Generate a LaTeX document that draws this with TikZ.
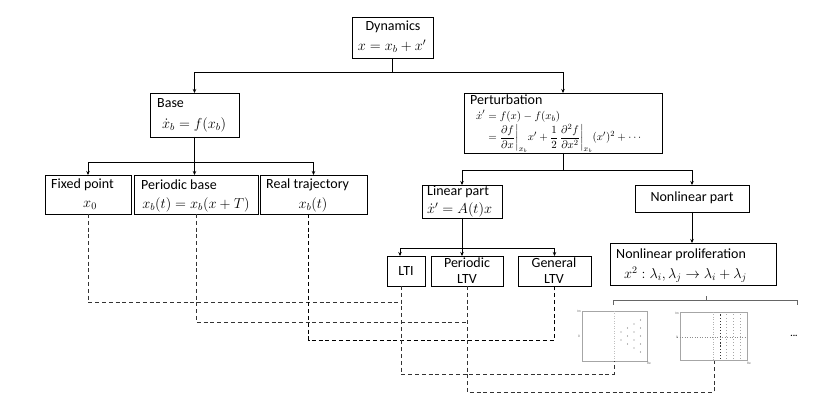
\documentclass[tikz,border=0pt]{standalone}
\usepackage{amsmath}
\usepackage{fontspec}
\setmainfont{Carlito}
\usetikzlibrary{arrows.meta,calc}
\begin{document}
\begin{tikzpicture}[x=1pt,y=-1pt,
  box/.style={draw, line width=0.9pt, rectangle, inner sep=0pt, outer sep=0pt, anchor=north west},
  lbl/.style={inner sep=0pt, font=\fontsize{14}{16}\selectfont},
  mth/.style={inner sep=0pt, font=\fontsize{14.5}{17}\selectfont},
  conn/.style={line width=0.8pt, -{Stealth[length=4pt,width=3.5pt]}},
  plain/.style={line width=0.8pt},
  dsh/.style={line width=0.9pt, dash pattern=on 4pt off 2.8pt, black!80},
  frm/.style={line width=0.5pt, black!35},
  tinyl/.style={inner sep=0pt, font=\fontsize{3.5}{4}\selectfont, text=black!60},
]
\useasboundingbox (0,0) rectangle (830,419);

% boxes
\node[box, minimum width=81pt,  minimum height=41pt] (dyn)  at (352,17)  {};
\node[box, minimum width=89pt,  minimum height=44pt] (base) at (150,93)  {};
\node[box, minimum width=198pt, minimum height=60pt] (pert) at (464,93)  {};
\node[box, minimum width=86pt,  minimum height=39pt] (fp)   at (45,175)  {};
\node[box, minimum width=124pt, minimum height=39pt] (pb)   at (134,175) {};
\node[box, minimum width=107pt, minimum height=39pt] (rt)   at (260,175) {};
\node[box, minimum width=80pt,  minimum height=33pt] (lin)  at (422,185) {};
\node[box, minimum width=114pt, minimum height=27pt] (nlp)  at (635,185) {};
\node[box, minimum width=38pt,  minimum height=30pt] (lti)  at (387,256) {};
\node[box, minimum width=72pt,  minimum height=30pt] (pltv) at (431,256) {};
\node[box, minimum width=73pt,  minimum height=30pt] (gltv) at (518,256) {};
\node[box, minimum width=166pt, minimum height=42pt] (npr)  at (610,243) {};

% texts
\node[lbl] (dynT) at (393,27) {Dynamics};
\node[mth] (dynM) at (392,46) {$x = x_b + x'$};
\node[lbl, anchor=west] (baseT) at (157,103) {Base};
\node[mth, anchor=west] (baseM) at (162,125) {$\dot{x}_b = f(x_b)$};
\node[lbl, anchor=west] (fpT) at (51,185) {Fixed point};
\node[mth] (fpM) at (90,205) {$x_0$};
\node[lbl, anchor=west] (pbT) at (141,185) {Periodic base};
\node[mth] (pbM) at (196,205) {$x_b(t) = x_b(x+T)$};
\node[lbl, anchor=west] (rtT) at (266,185) {Real trajectory};
\node[mth] (rtM) at (313,205) {$x_b(t)$};
\node[lbl, anchor=west] (pertT) at (470,100) {Perturbation};
\node[mth, anchor=north west, font=\fontsize{11}{13}\selectfont] (pertM) at (476,110)
  {$\begin{aligned}\dot{x}' &= f(x) - f(x_b)\\[-3pt]
   &= \frac{\partial f}{\partial x}\bigg|_{x_b} x' + \frac{1}{2}\,\frac{\partial^2 f}{\partial x^2}\bigg|_{x_b} (x')^2 + \cdots\end{aligned}$};
\node[lbl, anchor=west] (linT) at (427,192) {Linear part};
\node[mth, anchor=west] (linM) at (427,210) {$\dot{x}' = A(t)x$};
\node[lbl] (nlpT) at (692,198) {Nonlinear part};
\node[lbl] (ltiT) at (406,271) {LTI};
\node[lbl, align=center] (pltvT) at (467,271) {Periodic\\LTV};
\node[lbl, align=center] (gltvT) at (554,271) {General\\LTV};
\node[lbl, anchor=west] (nprT) at (616,255) {Nonlinear proliferation};
\node[mth, anchor=west] (nprM) at (624,275) {$x^2 : \lambda_i, \lambda_j \to \lambda_i + \lambda_j$};

% tree connectors
\coordinate (h1) at (0,72);
\coordinate (h2) at (0,162);
\coordinate (h3) at (0,170);
\coordinate (h4) at (0,248);
\draw[plain] (dyn.south) -- (dyn.south |- h1);
\draw[conn] (dyn.south |- h1) -| (base.north);
\draw[conn] (dyn.south |- h1) -| (pert.north);
\draw[plain] (base.south) -- (base.south |- h2);
\draw[conn] (base.south |- h2) -| (fp.north);
\draw[conn] (base.south |- h2) -| (rt.north);
\draw[conn] (base.south) -- (base.south |- pb.north);
\draw[plain] (pert.south) -- (pert.south |- h3);
\draw[conn] (pert.south |- h3) -| (lin.north);
\draw[conn] (pert.south |- h3) -| (nlp.north);
\draw[plain] (lin.south) -- (lin.south |- h4);
\coordinate (ltiA) at ([xshift=-6pt]lti.north);
\draw[conn] (lin.south |- h4) -| (ltiA);
\draw[conn] (lin.south |- h4) -| (gltv.north);
\draw[conn] (lin.south) -- (lin.south |- pltv.north);
\draw[conn] (nlp.south) -- (nlp.south |- npr.north);

% brace
\draw[line width=0.8pt, black!60] (613,305) -- (613,300) -- (797,300) -- (797,305);
\draw[line width=0.8pt, black!60] (706,300) -- (706,296);

% plot 1
\draw[frm] (582,311) rectangle (647,361);
\draw[line width=0.5pt, black!25, dotted] (614,311) -- (614,361);
\foreach \k/\x in {0/621,1/627.5,2/634,3/640.5}{
  \pgfmathtruncatemacro{\n}{\k+1}
  \foreach \j in {0,...,\n}{
    \fill[black!55] (\x,{336-4*\n+8*\j}) circle (0.6pt);
  }
}
\node[tinyl] (p1im) at (579,311) {Im};
\node[tinyl] (p1z) at (579,336) {0};
\node[tinyl] (p1re) at (649,363) {Re};
\coordinate (p1) at (614,361);

% plot 2
\draw[frm] (680,312) rectangle (747,360);
\draw[line width=0.5pt, black!45, dotted] (677,337) -- (747,337);
\draw[line width=0.5pt, black!30, dotted] (713,312) -- (713,360);
\foreach \j in {0,...,14}{
  \fill[black!80] (719.5,{314.5+3.1*\j}) rectangle +(1.2,1.2);
  \foreach \x in {726,733,740}{
    \fill[black!35] (\x,{314.5+3.1*\j}) rectangle +(0.9,0.9);
  }
}
\node[tinyl] (p2im) at (677,313) {Im};
\node[tinyl] (p2z) at (677,337) {0};
\node[tinyl] (p2re) at (749,363) {Re};
\coordinate (p2) at (714,361);
\node[inner sep=0pt, font=\fontsize{9}{10}\selectfont] (dots) at (794,336) {\textbf{...}};

% dashed connectors
\coordinate (r1) at (0,302);
\coordinate (r2) at (0,322);
\coordinate (r3) at (0,340);
\coordinate (r4) at (0,374);
\coordinate (r5) at (0,392);
\coordinate (ltiD) at ([xshift=-5pt]lti.south);
\coordinate (rtD) at ([xshift=-5pt]rt.south);
\draw[dsh] (fp.south) |- (ltiD |- r1);
\draw[dsh] (pb.south) |- (pltv.south |- r2);
\draw[dsh, black] (rtD) |- (gltv.south |- r3) -- (gltv.south);
\draw[dsh] (ltiD) |- (p1 |- r4) -- (p1);
\draw[dsh] (pltv.south) |- (p2 |- r5) -- (p2);
\end{tikzpicture}
\end{document}
